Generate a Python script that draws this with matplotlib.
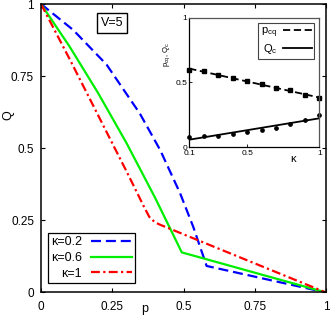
import numpy as np
import matplotlib
matplotlib.use("Agg")
from matplotlib import pyplot as plt

plt.rcParams["font.family"] = ["Liberation Sans", "DejaVu Sans"]
plt.rcParams["mathtext.default"] = "regular"

# main panel: Q(p) for three kappa values, V=5
p_k02 = [0, 0.113, 0.23, 0.347, 0.418, 0.488, 0.534, 0.581, 1.0]
Q_k02 = [1, 0.91, 0.79, 0.62, 0.494, 0.344, 0.228, 0.092, 0]

p_k06 = [0, 0.1, 0.2, 0.3, 0.4, 0.494, 1.0]
Q_k06 = [1, 0.853, 0.692, 0.518, 0.329, 0.139, 0]

p_k1 = [0, 0.1, 0.2, 0.3, 0.36, 0.38, 0.40, 0.42, 1.0]
Q_k1 = [1, 0.81, 0.615, 0.42, 0.30, 0.262, 0.243, 0.234, 0]

# inset: p_cq and Q_c vs kappa
kappa = [0.1, 0.2, 0.3, 0.4, 0.5, 0.6, 0.7, 0.8, 0.9, 1.0]
pcq = [0.599, 0.586, 0.56, 0.534, 0.508, 0.49, 0.461, 0.438, 0.40, 0.38]
Qc = [0.080, 0.086, 0.088, 0.099, 0.117, 0.135, 0.151, 0.177, 0.213, 0.25]

fig = plt.figure(figsize=(3.32, 3.21), dpi=100)
ax = fig.add_axes([0.1235, 0.0888, 0.8585, 0.8987])

ax.plot(p_k02, Q_k02, color="#0000ff", lw=1.6, dashes=(4.5, 2.2), label="κ=0.2")
ax.plot(p_k06, Q_k06, color="#00ee00", lw=1.6, label="κ=0.6")
ax.plot(p_k1, Q_k1, color="#ff0000", lw=1.6, dashes=(4, 1.5, 1, 1.5), label="κ=1")

ax.set_xlim(0, 1)
ax.set_ylim(0, 1)
ticks = [0, 0.25, 0.5, 0.75, 1]
ax.set_xticks(ticks)
ax.set_yticks(ticks)
ax.set_xticklabels(["0", "0.25", "0.5", "0.75", "1"])
ax.set_yticklabels(["0", "0.25", "0.5", "0.75", "1"])
ax.tick_params(direction="in", top=True, right=True, length=3, width=0.8,
               labelsize=8.5)
ax.tick_params(axis="x", pad=6)
ax.tick_params(axis="y", pad=5)
for s in ax.spines.values():
    s.set_linewidth(1.1)

ax.set_xlabel("p", fontsize=9)
ax.set_ylabel("Q", fontsize=9)
ax.xaxis.set_label_coords(0.365, -0.035)
ax.yaxis.set_label_coords(-0.093, 0.615)

ax.text(0.25, 0.935, "V=5", fontsize=9, ha="center", va="center",
        transform=ax.transAxes,
        bbox={"boxstyle": "square,pad=0.3", "fc": "white", "ec": "black", "lw": 1})

leg = ax.legend(loc="lower left", bbox_to_anchor=(0.024, 0.033), fontsize=9,
                markerfirst=False, fancybox=False, framealpha=1,
                edgecolor="black", handlelength=3.3, borderpad=0.25,
                labelspacing=0.3, handletextpad=0.7, borderaxespad=0)
leg.get_frame().set_linewidth(0.9)
for t in leg.get_texts():
    t.set_ha("right")

# inset
ins = fig.add_axes([0.570, 0.542, 0.392, 0.402])
k = np.array(kappa)
fit_p = np.polyval(np.polyfit(kappa, pcq, 1), k)
fit_q = np.polyval(np.polyfit(kappa, Qc, 1), k)
ins.plot(k, fit_p, color="black", lw=1.3, dashes=(4, 2), label="p$_{cq}$")
ins.plot(k, fit_q, color="black", lw=1.3, label="Q$_c$")
ins.plot(kappa, pcq, "s", color="black", ms=2.2, clip_on=False)
ins.plot(kappa, Qc, "o", color="black", ms=2.4, clip_on=False)
ins.set_xlim(0.1, 1)
ins.set_ylim(0, 1)
ins.set_xticks([0.1, 0.5, 1])
ins.set_xticklabels(["0.1", "0.5", "1"])
ins.set_yticks([0, 0.5, 1])
ins.set_yticklabels(["0", "0.5", "1"])
ins.tick_params(direction="in", length=2, width=0.6, labelsize=6, pad=1.5)
ins.tick_params(axis="x", pad=2.2)
for s in ins.spines.values():
    s.set_linewidth(0.9)
    s.set_color("#555555")
ins.spines["left"].set_color("black")
ins.spines["bottom"].set_color("black")
ins.set_ylabel("p$_{cq}$, Q$_c$", fontsize=5.5)
ins.yaxis.set_label_coords(-0.13, 0.72)
ins.text(0.8, -0.055, "κ", fontsize=8, ha="center", va="top",
         transform=ins.transAxes)
ileg = ins.legend(loc="upper right", fontsize=8, markerfirst=False,
                  fancybox=False, framealpha=1, edgecolor="#444444",
                  handlelength=2.6, borderpad=0.25, labelspacing=0.15,
                  handletextpad=0.5, borderaxespad=0.45)
ileg.get_frame().set_linewidth(0.8)
for t in ileg.get_texts():
    t.set_ha("right")

fig.savefig("out.png", dpi=100)
